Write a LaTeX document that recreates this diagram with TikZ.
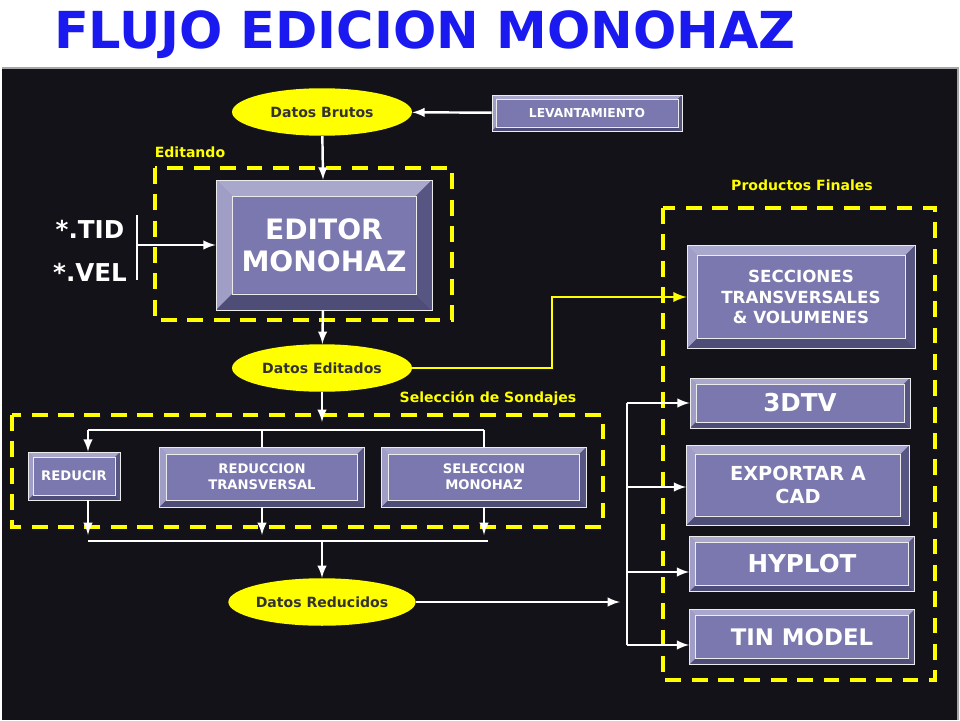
\documentclass[tikz,border=0pt]{standalone}
\usepackage{fontspec}
\setmainfont{DejaVu Sans}
\usetikzlibrary{shapes.geometric, arrows, positioning, calc}
\definecolor{bgdark}{HTML}{121218}
\definecolor{boxmid}{HTML}{7A78AE}
\definecolor{boxlight}{HTML}{A9A8CC}
\definecolor{boxdark}{HTML}{4E4D78}
\definecolor{titleblue}{HTML}{1A1AF0}
\definecolor{ylw}{HTML}{FFFF00}
\tikzset{
  bevelbox/.style={rectangle, draw=white!85!gray, fill=boxmid, text=white, align=center,
    font=\bfseries, inner sep=0pt,
    path picture={
      \coordinate (nw) at (path picture bounding box.north west);
      \coordinate (se) at (path picture bounding box.south east);
      \fill[boxlight] (nw) -- (nw -| se) -- ($(nw -| se)+(-#1,#1)$) -- ($(nw)+(#1,#1)$) -- cycle;
      \fill[boxlight!80!boxmid] (nw) -- ($(nw)+(#1,#1)$) -- ($(se -| nw)+(#1,-#1)$) -- (se -| nw) -- cycle;
      \fill[boxdark] (se) -- (se -| nw) -- ($(se -| nw)+(#1,-#1)$) -- ($(se)+(-#1,-#1)$) -- cycle;
      \fill[boxdark!80!boxmid] (se) -- ($(se)+(-#1,-#1)$) -- ($(nw -| se)+(-#1,#1)$) -- (nw -| se) -- cycle;
      \draw[white!85!gray, thin] ($(nw)+(#1,#1)$) rectangle ($(se)+(-#1,-#1)$);
    }},
  bevelbox/.default=8,
  datos/.style={ellipse, fill=ylw, minimum width=3.6cm, minimum height=0.95cm, inner sep=0pt,
    font=\fontsize{8}{9}\selectfont\bfseries, text=black!80},
  zone/.style={draw=ylw, line width=2.2pt, dash pattern=on 9pt off 6pt},
  zonelabel/.style={text=ylw, font=\fontsize{8}{9}\selectfont\bfseries},
  arrow/.style={white, line width=1.4pt, -latex},
  link/.style={white, line width=1.4pt}
}
\begin{document}
\begin{tikzpicture}[x=0.02cm, y=-0.02cm]
\useasboundingbox (0,0) rectangle (960,720);
% background
\fill[white] (0,0) rectangle (960,720);
\fill[bgdark] (2,68) rectangle (958,720);
\draw[gray!70, line width=1.5pt] (2,68) -- (958,68) -- (958,720);
\node[text=titleblue, font=\fontsize{29}{32}\selectfont\bfseries] (title) at (425,35) {FLUJO EDICION MONOHAZ};

% zones
\draw[zone] (155,168) rectangle (452,320);
\node[zonelabel] (lbledit) at (190,152) {Editando};
\draw[zone] (663,208) rectangle (935,680);
\node[zonelabel] (lblprod) at (802,185) {Productos Finales};
\draw[zone] (12,415) rectangle (603,527);
\node[zonelabel] (lblsel) at (488,398) {Selección de Sondajes};

% upper chain
\node[datos] (brutos) at (322,112) {Datos Brutos};
\node[bevelbox=4, minimum width=3.8cm, minimum height=0.72cm, font=\fontsize{7}{8}\selectfont\bfseries] (levant) at (587,113) {LEVANTAMIENTO};
\node[bevelbox=16, minimum width=4.32cm, minimum height=2.6cm, font=\fontsize{16}{18}\selectfont\bfseries] (editor) at (324,245) {EDITOR\\MONOHAZ};
\node[text=white, font=\fontsize{14}{16}\selectfont\bfseries] (tid) at (90,229) {*.TID};
\node[text=white, font=\fontsize{14}{16}\selectfont\bfseries] (vel) at (90,272) {*.VEL};
\coordinate (bartop) at (137,215);
\coordinate (barbot) at (137,280);
\coordinate (barmid) at (137,245);
\node[datos] (editados) at (322,368) {Datos Editados};

\draw[arrow] (levant) -- (brutos);
\draw[arrow] (brutos) -- (editor);
\draw[link] (bartop) -- (barbot);
\draw[arrow] (barmid) -- (editor);
\draw[arrow] (editor) -- (editados);

% final products
\node[bevelbox=10, minimum width=4.56cm, minimum height=2.06cm, font=\fontsize{9.5}{11.5}\selectfont\bfseries] (secc) at (801,297) {SECCIONES\\TRANSVERSALES\\\& VOLUMENES};
\node[bevelbox=6, minimum width=4.4cm, minimum height=1cm, font=\fontsize{14}{16}\selectfont\bfseries] (tdtv) at (800,403) {3DTV};
\node[bevelbox=9, minimum width=4.46cm, minimum height=1.6cm, font=\fontsize{11}{13}\selectfont\bfseries] (cad) at (798,485) {EXPORTAR A\\CAD};
\node[bevelbox=6, minimum width=4.5cm, minimum height=1.1cm, font=\fontsize{14}{16}\selectfont\bfseries] (hyplot) at (802,564) {HYPLOT};
\node[bevelbox=6, minimum width=4.5cm, minimum height=1.1cm, font=\fontsize{13}{15}\selectfont\bfseries] (tin) at (802,637) {TIN MODEL};
\draw[ylw, line width=1.6pt, -latex] (editados.east) -| (552,297) -- (secc.west);

% reduction
\node[bevelbox=5, minimum width=1.84cm, minimum height=0.96cm, font=\fontsize{7.5}{9}\selectfont\bfseries] (reducir) at (74,476) {REDUCIR};
\node[bevelbox=7, minimum width=4.1cm, minimum height=1.2cm, font=\fontsize{7.5}{9}\selectfont\bfseries] (redtrans) at (262,477) {REDUCCION\\TRANSVERSAL};
\node[bevelbox=7, minimum width=4.1cm, minimum height=1.2cm, font=\fontsize{7.5}{9}\selectfont\bfseries] (selmono) at (484,477) {SELECCION\\MONOHAZ};
\node[datos] (reducidos) at (322,602) {Datos Reducidos};
\coordinate (split) at (322,430);
\coordinate (join) at (322,541);
\coordinate (fork) at (627,602);

\draw[arrow] (editados) -- (322,422);
\draw[link] (88,430) -- (484,430);
\draw[arrow] (88,430) -- (reducir.north -| 88,0);
\draw[link] (262,430) -- (redtrans.north);
\draw[link] (484,430) -- (selmono.north);
\draw[arrow] (reducir.south -| 88,0) -- (88,535);
\draw[arrow] (redtrans.south) -- (262,535);
\draw[arrow] (selmono.south) -- (484,535);
\draw[link] (88,541) -- (488,541);
\draw[arrow] (join) -- (reducidos);
\draw[arrow] (reducidos) -- (620,602);
\draw[link] (627,403) -- (627,645);
\draw[arrow] (627,403) -- (tdtv.west);
\draw[arrow] (627,487) -- (cad.west |- 627,487);
\draw[arrow] (627,572) -- (hyplot.west |- 627,572);
\draw[arrow] (627,645) -- (tin.west |- 627,645);
\end{tikzpicture}
\end{document}
